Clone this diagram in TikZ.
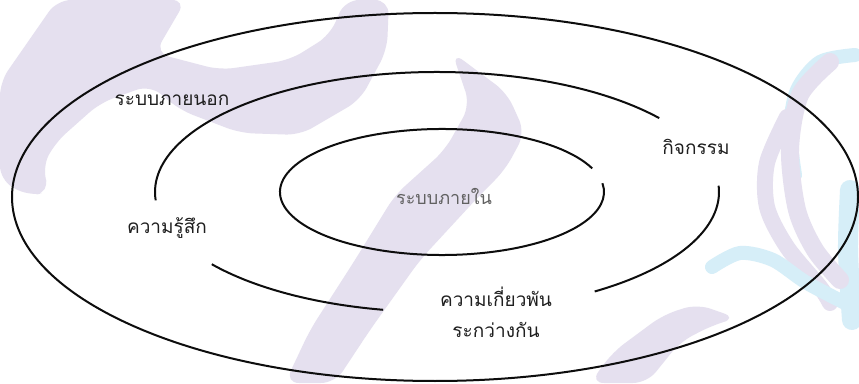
\documentclass[tikz,border=0pt]{standalone}
\usepackage{fontspec}
\newfontfamily\thaifont[Script=Thai]{Loma}
\usetikzlibrary{calc}
\definecolor{wmviolet}{RGB}{229,224,239}
\definecolor{wmblue}{RGB}{214,238,248}
\tikzstyle{ring} = [draw=black!95, line width=2pt]
\tikzstyle{ringtext} = [font=\thaifont\fontsize{19}{23}\selectfont, text=black!88, inner sep=0pt]
\tikzstyle{coretext} = [font=\thaifont\fontsize{18}{22}\selectfont, text=black!62, inner sep=0pt]
\tikzstyle{wmfill} = [fill=wmviolet, rounded corners=14pt]
\tikzstyle{wmline} = [line width=18pt, line cap=round]

\begin{document}
\begin{tikzpicture}[x=1pt, y=1pt]
\useasboundingbox (0,0) rectangle (859,383);
\fill[white] (0,0) rectangle (859,383);

%% Watermark in the background
\fill[wmfill] (57,383) -- (186,383) -- (155,330) -- (220,313) -- (290,323) -- (330,348) -- (345,383)
  -- (389,383) -- (387,333) -- (360,283) -- (300,248) -- (240,250) -- (180,273) -- (150,298)
  -- (100,280) -- (55,240) -- (42,215) -- (50,191) -- (28,187) -- (0,203) -- (0,301) -- cycle;
\fill[wmfill] (452,331) -- (507,290) -- (525,250) -- (505,213) -- (480,188) -- (420,123) -- (370,53)
  -- (335,0) -- (285,0) -- (310,53) -- (355,123) -- (395,188) -- (445,233) -- (470,278) -- cycle;
\fill[wmfill] (590,0) -- (613,31) -- (663,68) -- (697,79) -- (737,65) -- (713,58) -- (680,41) -- (647,0) -- cycle;
\draw[wmline, wmblue, line width=14pt] plot[smooth] coordinates {(855,328) (820,321) (797,293) (790,253) (795,208)};
\draw[wmline, wmblue, line width=20pt] plot[smooth] coordinates {(850,193) (848,133) (852,63)};
\draw[wmline, wmviolet] plot[smooth] coordinates {(830,321) (800,288) (790,233) (797,173) (815,133) (840,103)};
\draw[wmline, wmviolet, line width=16pt] plot[smooth] coordinates {(787,266) (767,220) (767,176) (787,136) (820,96) (830,80)};
\draw[wmline, wmblue, line width=14pt] plot[smooth] coordinates {(712,116) (740,130) (773,123) (807,100) (853,76)};

%% Centres of the rings
\coordinate (outer) at (435,186);
\coordinate (middle) at (437,191);
\coordinate (inner) at (442,191);

%% Rings
\draw[ring] (outer) ellipse [x radius=423, y radius=184];
\draw[ring] ($(middle)+(38:282 and 120)$) arc [start angle=38, end angle=184, x radius=282, y radius=120];
\draw[ring] ($(middle)+(217:282 and 120)$) arc [start angle=217, end angle=259, x radius=282, y radius=120];
\draw[ring] ($(middle)+(304:282 and 120)$) arc [start angle=304, end angle=363, x radius=282, y radius=120];
\draw[ring] ($(inner)+(22:162 and 63)$) arc [start angle=22, end angle=368, x radius=162, y radius=63];

%% Place labels
\node[coretext] (core) at (444,187) {ระบบภายใน};
\node[ringtext] (outside) at (172,283) {ระบบภายนอก};
\node[ringtext] (feeling) at (167,155) {ความรู้สึก};
\node[ringtext] (activity) at (696,236) {กิจกรรม};
\node[ringtext, align=center] (relation) at (496,71) {ความเกี่ยวพัน\\[8pt]ระกว่างกัน};
\end{tikzpicture}
\end{document}
